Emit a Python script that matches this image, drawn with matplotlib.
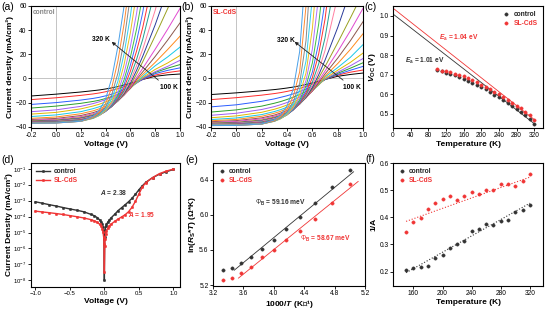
import matplotlib
matplotlib.use("Agg")
import matplotlib.pyplot as plt
import numpy as np
from matplotlib.ticker import MultipleLocator, FixedLocator, NullLocator

plt.rcParams['font.family'] = ['Liberation Sans', 'DejaVu Sans']
plt.rcParams['mathtext.fontset'] = 'custom'
plt.rcParams['mathtext.rm'] = 'Liberation Sans'
plt.rcParams['mathtext.it'] = 'Liberation Sans:italic:bold'
plt.rcParams['mathtext.bf'] = 'Liberation Sans:bold'
plt.rcParams['axes.linewidth'] = 0.8

RED = '#f03535'
DARK = '#333333'

# ---------------- (a)/(b) J-V curves, 100 K ... 320 K ----------------
TEMPS = [100, 110, 120, 130, 140, 150, 160, 170, 180, 190, 200, 210,
         220, 230, 240, 250, 260, 270, 280, 290, 300, 310, 320]
V_GRID = [-0.2, 0.0, 0.2, 0.3, 0.35, 0.4, 0.45, 0.5, 0.55, 0.6, 0.65, 0.7, 0.8, 0.9, 1.0]
N = None

jv_control = [
    [-14.5, -13.0, -11.2, -10.1, -9.5, -8.7, -7.8, -6.7, -5.4, -4.0, -2.5, -0.8, 1.8, 3.0, 3.7],
    [-17.5, -16.0, -14.0, -12.8, -12.0, -11.0, -9.8, -8.4, -6.8, -5.0, -3.0, -0.8, 2.8, 4.9, 6.3],
    [-21.5, -20.0, -17.9, -16.5, -15.6, -14.4, -13.0, -11.2, -9.1, -6.6, -3.8, -0.7, 4.0, 6.7, 8.8],
    [-24.5, -22.9, -20.6, -19.0, -18.0, -16.6, -15.0, -13.0, -10.6, -7.2, -3.6, 0.0, 5.0, 8.5, 11.5],
    [-27.5, -26.0, -23.1, -20.8, -19.3, -17.6, -15.7, -13.4, -10.7, -7.5, -3.8, 0.2, 5.6, 10.0, 15.0],
    [-29.5, -28.1, -25.2, -22.8, -21.3, -19.4, -17.3, -14.7, -11.6, -7.9, -3.5, 0.8, 7.5, 12.8, 19.0],
    [-31.5, -30.2, -27.5, -25.0, -23.4, -21.4, -19.0, -16.1, -12.6, -8.3, -3.0, 1.8, 10.5, 17.8, 26.0],
    [-33.0, -31.9, -29.2, -26.8, -25.1, -23.0, -20.4, -17.2, -13.2, -8.3, -2.1, 3.4, 13.3, 23.9, 35.0],
    [-34.0, -33.1, -30.7, -28.3, -26.6, -24.4, -21.7, -18.2, -13.7, -8.0, -0.8, 5.5, 18.2, 31.7, 46.0],
    [-34.6, -33.8, -31.6, -29.2, -27.5, -25.2, -22.3, -18.5, -13.7, -7.3, 0.75, 8.4, 24.2, 40.7, 58.0],
    [-35.1, -34.4, -32.4, -30.0, -28.3, -25.9, -22.8, -18.7, -13.2, -5.9, 3.6, 13.9, 35.3, 57.7, 81.2],
    [-35.5, -34.9, -33.0, -30.7, -28.8, -26.4, -23.1, -18.5, -12.4, -4.1, 6.7, 18.4, 44.4, 73.5, N],
    [-35.8, -35.3, -33.5, -31.3, -29.4, -26.8, -23.3, -18.3, -11.4, -1.8, 10.5, 24.3, 56.4, 94.5, N],
    [-36.0, -35.6, -34.0, -31.7, -29.8, -27.1, -23.3, -17.8, -9.9, 1.3, 15.7, 32.5, 73.4, N, N],
    [-36.1, -35.8, -34.3, -32.1, -30.2, -27.3, -23.1, -16.8, -7.6, 5.9, 22.6, 42.3, 90.1, N, N],
    [-36.3, -36.1, -34.7, -32.5, -30.4, -27.3, -22.7, -15.6, -4.8, 10.9, 30.7, 54.8, 115.0, N, N],
    [-36.5, -36.2, -34.9, -32.7, -30.5, -27.2, -21.9, -13.8, -1.0, 17.5, 40.8, 69.0, N, N, N],
    [-36.6, -36.4, -35.2, -32.9, -30.6, -26.9, -20.9, -11.2, 4.4, 26.2, 53.8, 87.2, N, N, N],
    [-36.7, -36.55, -35.4, -33.1, -30.6, -26.4, -19.4, -7.5, 11.7, 37.8, 70.5, N, N, N, N],
    [-36.8, -36.65, -35.5, -32.9, -30.1, -25.2, -16.8, -2.3, 20.6, 51.4, 90.1, N, N, N, N],
    [-36.9, -36.8, -35.5, -32.6, -29.4, -23.6, -13.5, 4.4, 31.6, 68.0, N, N, N, N, N],
    [-37.0, -36.9, -35.5, -32.1, -28.1, -20.9, -7.8, 14.6, 45.4, 84.2, N, N, N, N, N],
    [-37.0, -36.9, -35.4, -31.3, -26.4, -17.2, 0.0, 26.6, 60.2, 100.8, N, N, N, N, N],
]

jv_slcds = [
    [-13.3, -11.9, -10.2, -9.2, -8.6, -7.9, -7.1, -6.1, -5.0, -3.7, -2.3, -0.8, 1.8, 3.3, 4.5],
    [-17.5, -15.9, -13.8, -12.5, -11.7, -10.7, -9.6, -8.2, -6.6, -4.9, -3.0, -0.9, 2.8, 5.2, 7.0],
    [-23.5, -21.8, -18.9, -16.9, -15.6, -14.3, -12.7, -10.9, -8.8, -6.5, -3.9, -1.0, 3.4, 6.8, 10.0],
    [-27.8, -26.0, -22.9, -20.5, -19.1, -17.4, -15.5, -13.3, -10.8, -8.0, -4.6, -0.8, 4.3, 8.5, 13.0],
    [-30.5, -28.8, -25.7, -23.3, -21.7, -19.9, -17.8, -15.3, -12.4, -9.1, -5.1, -0.5, 5.2, 10.5, 16.5],
    [-32.5, -31.0, -28.0, -25.5, -23.9, -22.0, -19.7, -17.0, -13.8, -10.0, -5.4, 0.0, 6.8, 13.3, 21.0],
    [-34.0, -32.7, -29.9, -27.4, -25.8, -23.8, -21.4, -18.4, -14.8, -10.4, -5.1, 1.1, 9.0, 17.5, 28.0],
    [-35.0, -33.9, -31.3, -28.8, -27.2, -25.1, -22.5, -19.3, -15.4, -10.4, -4.3, 1.9, 12.3, 24.0, 37.0],
    [-35.8, -34.9, -32.6, -30.3, -28.6, -26.5, -23.8, -20.3, -15.9, -10.4, -3.3, 3.7, 16.8, 31.2, 47.0],
    [-36.4, -35.6, -33.4, -31.2, -29.5, -27.3, -24.5, -20.8, -16.0, -9.9, -1.9, 6.1, 22.2, 39.5, 58.0],
    [-36.9, -36.3, -34.3, -32.0, -30.4, -28.1, -25.1, -21.2, -15.9, -8.9, 0.4, 9.8, 29.5, 50.0, 71.0],
    [-37.3, -36.7, -34.9, -32.7, -31.0, -28.7, -25.5, -21.2, -15.4, -7.6, 3.0, 15.1, 42.1, 72.6, N],
    [-37.6, -37.0, -35.3, -33.2, -31.4, -29.0, -25.7, -21.1, -14.6, -5.7, 6.7, 23.0, 67.7, N, N],
    [-37.9, -37.4, -35.9, -33.8, -32.1, -29.6, -26.0, -20.9, -13.6, -3.1, 12.1, 33.5, 95.1, N, N],
    [-38.1, -37.7, -36.4, -34.4, -32.6, -30.0, -26.1, -20.4, -11.9, 0.6, 20.3, 48.9, 133.0, N, N],
    [-38.3, -38.0, -36.8, -34.7, -32.9, -30.1, -25.9, -19.4, -9.7, 5.3, 29.4, 63.9, N, N, N],
    [-38.5, -38.3, -37.1, -35.0, -33.1, -30.1, -25.3, -17.9, -6.3, 12.8, 45.0, 91.0, N, N, N],
    [-38.6, -38.4, -37.3, -35.3, -33.2, -29.9, -24.5, -15.9, -1.8, 24.1, 68.2, N, N, N, N],
    [-38.7, -38.6, -37.6, -35.5, -33.4, -29.7, -23.5, -13.2, 4.5, 41.1, 101.0, N, N, N, N],
    [-38.8, -38.7, -37.7, -35.4, -33.0, -28.8, -21.6, -9.2, 14.4, 66.6, N, N, N, N, N],
    [-38.9, -38.8, -37.8, -35.3, -32.6, -27.8, -19.2, -4.2, 31.3, 108.5, N, N, N, N, N],
    [-39.0, -38.9, -37.8, -34.9, -31.6, -25.6, -14.8, 5.5, 60.0, 159.0, N, N, N, N, N],
    [-39.0, -38.9, -37.7, -34.3, -30.3, -22.7, -8.6, 22.3, 93.7, N, N, N, N, N, N],
]

CURVE_COLORS = ['#000000', '#ff2a2a', '#2a5cff', '#2ca02c', '#a15cf0', '#e0b800',
                '#18c8e8', '#ff8a1c', '#8c564b', '#e04ad0', '#9aa020', '#2a3a9a',
                '#ff7fa0', '#20a090', '#ff3030', '#3a6cff', '#40c040', '#b070ff',
                '#e8c020', '#30d0f0', '#888888', '#ff8a30', '#4aa0e8']

# ---------------- (c) Voc vs T ----------------
voc_control = [0.722, 0.716, 0.71, 0.703, 0.697, 0.688, 0.679, 0.669, 0.659, 0.648, 0.636, 0.624,
               0.611, 0.598, 0.584, 0.57, 0.556, 0.541, 0.525, 0.509, 0.492, 0.472, 0.45]
voc_slcds = [0.727, 0.721, 0.716, 0.711, 0.705, 0.699, 0.691, 0.682, 0.672, 0.661, 0.649, 0.638,
             0.626, 0.613, 0.6, 0.586, 0.572, 0.557, 0.542, 0.527, 0.511, 0.492, 0.47]
ea_line_T = [0, 322]
ea_line_control = [1.01, 0.446]
ea_line_slcds = [1.04, 0.467]

# ---------------- (d) dark J-V ----------------
vd_control = [-1.0, -0.9, -0.8, -0.7, -0.6, -0.5, -0.4, -0.3, -0.2, -0.15, -0.1, -0.07, -0.05,
              -0.03, -0.02, -0.01, -0.005, 0.0, 0.005, 0.01, 0.02, 0.03, 0.05, 0.07, 0.1, 0.15,
              0.2, 0.25, 0.3, 0.35, 0.4, 0.45, 0.5, 0.55, 0.6, 0.7, 0.8, 0.9, 1.0]
jd_control = [8.5e-4, 6.9e-4, 5.6e-4, 4.6e-4, 3.7e-4, 3.0e-4, 2.5e-4, 2.0e-4, 1.4e-4, 1.15e-4,
              8.5e-5, 6.3e-5, 4.8e-5, 3.2e-5, 2.3e-5, 1.2e-5, 4e-6, 1.0e-8, 5e-6, 1.4e-5, 2.4e-5,
              3.2e-5, 4.5e-5, 6e-5, 8.5e-5, 1.4e-4, 2.4e-4, 3.6e-4, 5.5e-4, 8.5e-4, 1.4e-3,
              2.5e-3, 4.8e-3, 8.5e-3, 1.4e-2, 2.8e-2, 4.6e-2, 6.6e-2, 9e-2]
vd_slcds = vd_control
jd_slcds = [2.2e-4, 1.95e-4, 1.75e-4, 1.55e-4, 1.35e-4, 1.15e-4, 9.8e-5, 8.2e-5, 6.5e-5, 5.5e-5,
            4.3e-5, 3.3e-5, 2.6e-5, 1.7e-5, 1.1e-5, 5e-6, 2e-6, 3.5e-8, 1.5e-6, 4e-6, 8e-6,
            1.2e-5, 1.9e-5, 2.6e-5, 3.4e-5, 5e-5, 7e-5, 9.5e-5, 1.3e-4, 2e-4, 3.8e-4, 9e-4,
            2.6e-3, 7e-3, 1.35e-2, 2.8e-2, 5e-2, 7.2e-2, 9.5e-2]
LOG_TICKS = [1e-8, 1e-7, 1e-6, 1e-5, 1e-4, 1e-3, 1e-2, 1e-1]

# ---------------- (e) ln(Rs*T) vs 1000/T ----------------
T_rs = [300, 290, 280, 270, 260, 250, 240, 230, 220, 210, 200]
lnrt_control = [5.37, 5.40, 5.45, 5.52, 5.61, 5.71, 5.84, 5.98, 6.14, 6.32, 6.51]
lnrt_slcds = [5.26, 5.28, 5.34, 5.41, 5.52, 5.60, 5.71, 5.82, 5.95, 6.13, 6.35]
fit_e_x_control = [3.48, 5.05]
fit_e_y_control = [5.37, 6.49]
fit_e_x_slcds = [3.535, 5.11]
fit_e_y_slcds = [5.28, 6.38]

# ---------------- (f) 1/A vs T ----------------
T_a = [150, 160, 170, 180, 190, 200, 210, 220, 230, 240, 250, 260, 270, 280, 290, 300, 310, 320]
inva_control = [0.207, 0.213, 0.217, 0.219, 0.25, 0.261, 0.286, 0.302, 0.313, 0.348, 0.356,
                0.377, 0.371, 0.386, 0.391, 0.421, 0.428, 0.445]
inva_slcds = [0.346, 0.384, 0.398, 0.431, 0.451, 0.467, 0.477, 0.463, 0.479, 0.493, 0.487,
              0.499, 0.499, 0.524, 0.521, 0.514, 0.535, 0.559]
fit_f_T = [150, 320]
fit_f_control = [0.196, 0.452]
fit_f_slcds = [0.385, 0.548]

LAB = 6.0     # axis label size
TICK = 4.8    # tick label size
NOTE = 4.8    # in-plot text size


def style(ax, labelsize=TICK):
    ax.tick_params(direction='out', length=2, width=0.6, labelsize=labelsize, pad=1.2)
    for s in ax.spines.values():
        s.set_linewidth(0.8)


def label(ax, xl, yl, ypad=1.2, xpad=1.0):
    ax.set_xlabel(xl, fontsize=LAB, fontweight='bold', labelpad=xpad)
    ax.set_ylabel(yl, fontsize=LAB, fontweight='bold', labelpad=ypad)


def legend(ax, loc, hl=1.0):
    leg = ax.legend(loc=loc, frameon=False, prop={'size': NOTE, 'weight': 'bold'},
                    handlelength=hl, handletextpad=0.6, labelspacing=0.25, borderaxespad=0.4)
    for t, c in zip(leg.get_texts(), ['#222222', RED]):
        t.set_color(c)
    return leg


W, H = 546, 310
fig = plt.figure(figsize=(W / 100, H / 100), dpi=100)


def box(x0, y0, x1, y1):
    return fig.add_axes([x0 / W, 1 - y1 / H, (x1 - x0) / W, (y1 - y0) / H])


def draw_jv(ax, rows, tag, tag_color, lab320, lab100, arrow_from, arrow_to):
    ax.axvline(0, color='#c4c4c4', lw=0.7, zorder=0)
    ax.axhline(0, color='#c4c4c4', lw=0.7, zorder=0)
    for i, row in enumerate(rows):
        ax.plot(V_GRID, np.array(row, dtype=float), color=CURVE_COLORS[i], lw=0.7)
    ax.set_xlim(-0.2, 1.0)
    ax.set_ylim(-41, 60)
    ax.xaxis.set_major_locator(MultipleLocator(0.2))
    ax.yaxis.set_major_locator(MultipleLocator(20))
    ax.xaxis.set_major_formatter(plt.FuncFormatter(lambda v, p: f'{v:.1f}'))
    ax.text(0.015, 0.945, tag, transform=ax.transAxes, fontsize=NOTE, fontweight='bold',
            color=tag_color, ha='left', va='center')
    ax.annotate('', xy=arrow_to, xytext=arrow_from,
                arrowprops=dict(arrowstyle='-|>', color='#222222', lw=0.6,
                                mutation_scale=5, shrinkA=0, shrinkB=0))
    ax.text(lab320[0], lab320[1], '320 K', fontsize=NOTE, fontweight='bold', ha='center', va='center')
    ax.text(lab100[0], lab100[1], '100 K', fontsize=NOTE, fontweight='bold', ha='center', va='center')
    label(ax, 'Voltage (V)', 'Current density (mA/cm²)')
    style(ax)


ax_a = box(31, 6, 180, 128)
draw_jv(ax_a, jv_control, 'control', '#888888', (0.365, 32.6), (0.91, -7.4), (0.826, -1.4), (0.45, 30.3))
ax_b = box(211, 6, 363, 128)
draw_jv(ax_b, jv_slcds, 'SL-CdS', RED, (0.39, 31.8), (0.915, -7.5), (0.843, -1.4), (0.46, 30.4))

# (c)
ax_c = box(393, 6, 543, 128)
ax_c.plot(ea_line_T, ea_line_control, color=DARK, lw=0.6)
ax_c.plot(ea_line_T, ea_line_slcds, color=RED, lw=0.6)
ax_c.plot(TEMPS, voc_control, 'o', color=DARK, ms=2.4, mew=0.3, label='control')
ax_c.plot(TEMPS, voc_slcds, 'o', color=RED, ms=2.4, mew=0.3, label='SL-CdS')
ax_c.set_xlim(0, 340)
ax_c.set_ylim(0.427, 1.051)
ax_c.xaxis.set_major_locator(MultipleLocator(40))
ax_c.yaxis.set_major_locator(MultipleLocator(0.1))
ax_c.text(148, 0.887, r'$\mathit{E}_\mathbf{a}$ = 1.04 eV', color=RED, fontsize=NOTE,
          fontweight='bold', ha='center', va='center')
ax_c.text(71, 0.77, r'$\mathit{E}_\mathbf{a}$ = 1.01 eV', color=DARK, fontsize=NOTE,
          fontweight='bold', ha='center', va='center')
legend(ax_c, 'upper right')
label(ax_c, 'Temperature (K)', r'$\mathit{V}_\mathbf{OC}$ (V)')
style(ax_c)

# (d)
ax_d = box(31, 163, 180, 287)
ax_d.semilogy(vd_control, jd_control, '-o', color=DARK, lw=1.0, ms=1.8, mew=0.3, label='control')
ax_d.semilogy(vd_slcds, jd_slcds, '-o', color=RED, lw=1.0, ms=1.8, mew=0.3, label='SL-CdS')
ax_d.set_xlim(-1.063, 1.096)
ax_d.set_ylim(3.8e-9, 0.23)
ax_d.xaxis.set_major_locator(MultipleLocator(0.5))
ax_d.yaxis.set_major_locator(FixedLocator(LOG_TICKS))
ax_d.yaxis.set_minor_locator(NullLocator())
ax_d.text(-0.063, 10 ** -2.46, r'$\mathit{A}$ = 2.38', color=DARK, fontsize=NOTE,
          fontweight='bold', ha='left', va='center')
ax_d.text(0.34, 10 ** -3.9, r'$\mathit{A}$ = 1.95', color=RED, fontsize=NOTE,
          fontweight='bold', ha='left', va='center')
legend(ax_d, 'upper left', hl=2.0)
label(ax_d, 'Voltage (V)', 'Current Density (mA/cm²)', ypad=0.5)
style(ax_d, labelsize=4.3)

# (e)
ax_e = box(213, 163, 365, 286)
inv_T = 1000.0 / np.array(T_rs)
ax_e.plot(fit_e_x_control, fit_e_y_control, color=DARK, lw=0.6)
ax_e.plot(fit_e_x_slcds, fit_e_y_slcds, color=RED, lw=0.6)
ax_e.plot(inv_T, lnrt_control, 'o', color=DARK, ms=2.4, mew=0.3, label='control')
ax_e.plot(inv_T, lnrt_slcds, 'o', color=RED, ms=2.4, mew=0.3, label='SL-CdS')
ax_e.set_xlim(3.2, 5.2)
ax_e.set_ylim(5.19, 6.59)
ax_e.xaxis.set_major_locator(MultipleLocator(0.4))
ax_e.yaxis.set_major_locator(MultipleLocator(0.4))
ax_e.text(3.753, 6.135, r'$\mathit{Φ}_\mathbf{B}$ = 59.16 meV', color=DARK, fontsize=NOTE,
          fontweight='bold', ha='left', va='center')
ax_e.text(4.345, 5.725, r'$\mathit{Φ}_\mathbf{B}$ = 58.67 meV', color=RED, fontsize=NOTE,
          fontweight='bold', ha='left', va='center')
legend(ax_e, 'upper left')
label(ax_e, r'1000/$\mathit{T}$ (K⁻¹)', r'ln($\mathit{R}_\mathbf{S}$*$\mathit{T}$) (Ω*K)', xpad=0.5)
style(ax_e)

# (f)
ax_f = box(393, 163, 543, 286)
ax_f.plot(fit_f_T, fit_f_control, ':', color=DARK, lw=0.8)
ax_f.plot(fit_f_T, fit_f_slcds, ':', color=RED, lw=0.8)
ax_f.plot(T_a, inva_control, 'o', color=DARK, ms=2.4, mew=0.3, label='control')
ax_f.plot(T_a, inva_slcds, 'o', color=RED, ms=2.4, mew=0.3, label='SL-CdS')
ax_f.set_xlim(132, 338)
ax_f.set_ylim(0.147, 0.6)
ax_f.xaxis.set_major_locator(MultipleLocator(40))
ax_f.yaxis.set_major_locator(MultipleLocator(0.1))
legend(ax_f, 'upper left')
label(ax_f, 'Temperature (K)', '1/A')
style(ax_f)

# panel letters
for x, y, s in [(1, 7, '(a)'), (181, 7, '(b)'), (364, 7, '(c)'),
                (1, 160, '(d)'), (185, 160, '(e)'), (365, 159, '(f)')]:
    fig.text(x / W, 1 - y / H, s, fontsize=7.5, ha='left', va='center')

fig.savefig('out.png', dpi=100)
